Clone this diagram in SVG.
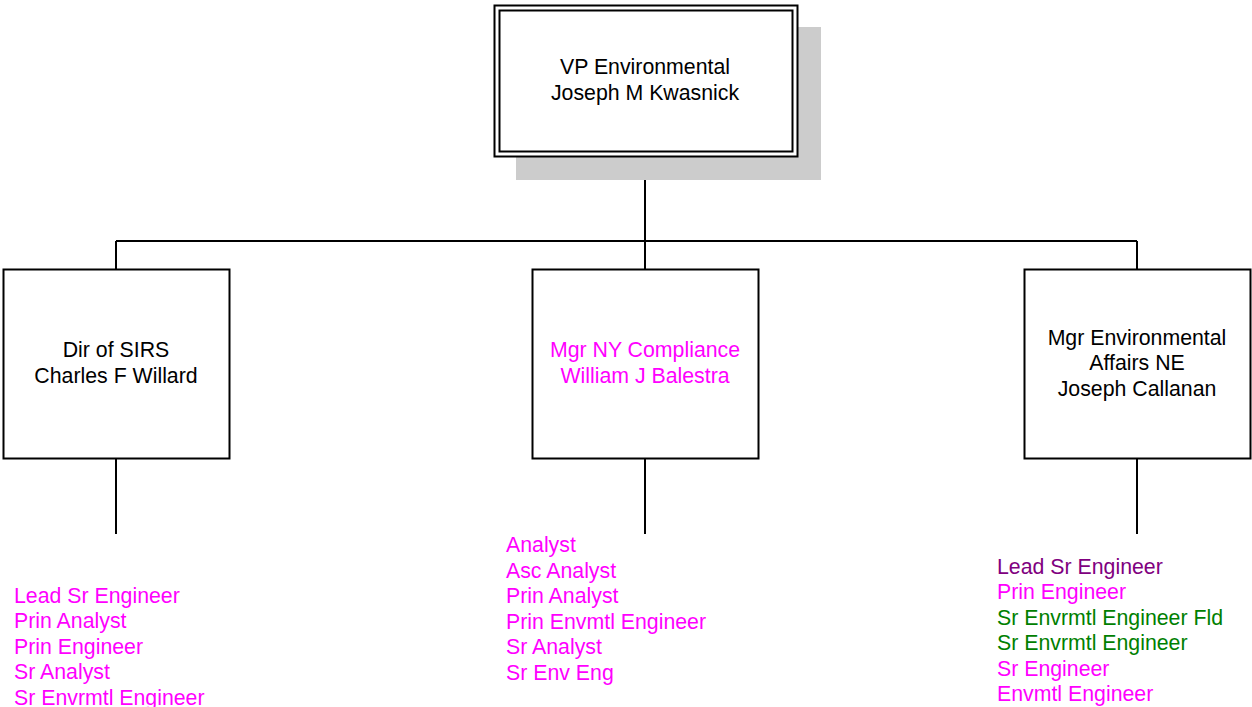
<svg xmlns="http://www.w3.org/2000/svg" width="1252" height="707" viewBox="0 0 1252 707">
<style>
text{font-family:"Liberation Sans",Arial,sans-serif;font-size:21.3px}
.c{text-anchor:middle;fill:#000}
.box{fill:#fff;stroke:#000;stroke-width:2}
.m{fill:#ff00ff}
.p{fill:#800080}
.g{fill:#008000}
.ln{stroke:#000;stroke-width:2;fill:none}
</style>
<rect width="1252" height="707" fill="#fff"/>
<g id="connectors">
<path class="ln" d="M645 157V241M116 241H1137M116 241V269M645 241V269M1137 241V269M116 458V534M645 458V534M1137 458V534"/>
</g>
<g id="vp">
<rect x="516" y="27" width="305" height="153" fill="#cccccc"/>
<rect x="494.5" y="5.5" width="303" height="151" fill="#fff" stroke="#000" stroke-width="2"/>
<rect x="499.5" y="10.5" width="293" height="141" fill="none" stroke="#000" stroke-width="2"/>
<text class="c" x="645" y="74">VP Environmental</text>
<text class="c" x="645" y="100">Joseph M Kwasnick</text>
</g>
<g id="dir-sirs">
<rect class="box" x="3.5" y="269.5" width="226" height="189"/>
<text class="c" x="116" y="357">Dir of SIRS</text>
<text class="c" x="116" y="383">Charles F Willard</text>
</g>
<g id="mgr-ny">
<rect class="box" x="532.5" y="269.5" width="226" height="189" stroke="#ff00ff"/>
<text class="c m" x="645" y="357" style="fill:#ff00ff">Mgr NY Compliance</text>
<text class="c m" x="645" y="383" style="fill:#ff00ff">William J Balestra</text>
</g>
<g id="mgr-env">
<rect class="box" x="1024.5" y="269.5" width="226" height="189"/>
<text class="c" x="1137" y="345">Mgr Environmental</text>
<text class="c" x="1137" y="370">Affairs NE</text>
<text class="c" x="1137" y="396">Joseph Callanan</text>
</g>
<g id="list-sirs">
<text class="m" x="14" y="603">Lead Sr Engineer</text>
<text class="m" x="14" y="628">Prin Analyst</text>
<text class="m" x="14" y="654">Prin Engineer</text>
<text class="m" x="14" y="679">Sr Analyst</text>
<text class="m" x="14" y="705">Sr Envrmtl Engineer</text>
</g>
<g id="list-ny">
<text class="m" x="506" y="552">Analyst</text>
<text class="m" x="506" y="578">Asc Analyst</text>
<text class="m" x="506" y="603">Prin Analyst</text>
<text class="m" x="506" y="629">Prin Envmtl Engineer</text>
<text class="m" x="506" y="654">Sr Analyst</text>
<text class="m" x="506" y="680">Sr Env Eng</text>
</g>
<g id="list-env">
<text class="p" x="997" y="574">Lead Sr Engineer</text>
<text class="m" x="997" y="599">Prin Engineer</text>
<text class="g" x="997" y="625">Sr Envrmtl Engineer Fld</text>
<text class="g" x="997" y="650">Sr Envrmtl Engineer</text>
<text class="m" x="997" y="676">Sr Engineer</text>
<text class="m" x="997" y="701">Envmtl Engineer</text>
</g>
</svg>
